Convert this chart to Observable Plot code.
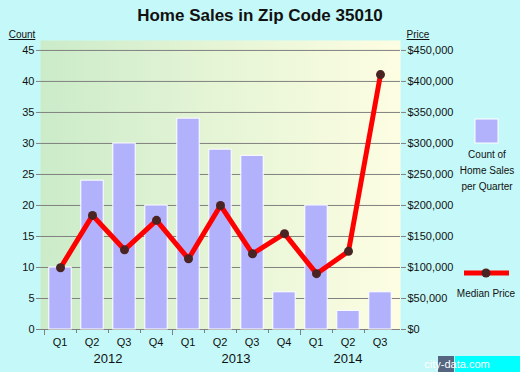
<!DOCTYPE html>
<html>
<head>
<meta charset="utf-8">
<script src="https://cdn.jsdelivr.net/npm/d3@7"></script>
<script src="https://cdn.jsdelivr.net/npm/@observablehq/plot@0.6"></script>
<style>
  html, body { margin: 0; padding: 0; background: #c5f9f9; }
  #chart { width: 520px; height: 372px; }
  svg { display: block; }
</style>
</head>
<body>
<div id="chart"></div>
<script>
const quarters = ["Q1","Q2","Q3","Q4","Q1","Q2","Q3","Q4","Q1","Q2","Q3"];
const years = [2012,2012,2012,2012,2013,2013,2013,2013,2014,2014,2014];
const counts = [10,24,30,20,34,29,28,6,20,3,6];
const prices = [99500,184000,128500,176000,114000,200000,122000,154500,90000,126000,411000];
const countTicks = [0,5,10,15,20,25,30,35,40,45];
const priceTicks = [0,50000,100000,150000,200000,250000,300000,350000,400000,450000];

const data = quarters.map((q, i) => ({id: years[i] + " " + q, q, year: years[i], count: counts[i], price: prices[i]}));
const ids = data.map(d => d.id);
const PRICE_PER_COUNT = 10000;

const font = "'Liberation Sans', Arial, sans-serif";

function xAxisMark(index, scales, values, dimensions) {
  const x = scales.x;
  let bw = x.bandwidth;
  bw = typeof bw === "function" ? bw() : (bw || 0);
  const y0 = dimensions.height - dimensions.marginBottom;
  const g = d3.create("svg:g").attr("font-family", font);
  ids.forEach((id, i) => {
    const xs = x(id);
    const isYear = i === 0 || data[i].year !== data[i - 1].year;
    g.append("line").attr("x1", xs + 0.5).attr("x2", xs + 0.5)
      .attr("y1", y0).attr("y2", y0 + (isYear ? 6 : 4))
      .attr("stroke", "#808080");
  });
  data.forEach(d => {
    g.append("text").attr("x", x(d.id) + bw / 2).attr("y", y0 + 17)
      .attr("text-anchor", "middle").attr("font-size", 11).attr("fill", "#111")
      .text(d.q);
  });
  d3.groups(data, d => d.year).forEach(([yr, arr]) => {
    const cx = d3.mean(arr, d => x(d.id) + bw / 2);
    g.append("text").attr("x", cx).attr("y", y0 + 34)
      .attr("text-anchor", "middle").attr("font-size", 13).attr("fill", "#111")
      .text(yr);
  });
  return g.node();
}

const chart = Plot.plot({
  width: 520,
  height: 372,
  marginLeft: 40,
  marginRight: 120,
  marginTop: 40,
  marginBottom: 43,
  style: {background: "transparent", fontFamily: font},
  x: {type: "band", domain: ids, padding: 0, axis: null},
  y: {domain: [0, 46.6], axis: null},
  marks: [
    Plot.frame({fill: "url(#bggrad)", stroke: "none"}),
    Plot.ruleY(countTicks, {stroke: "#808080", strokeWidth: 1}),
    Plot.axisY(countTicks, {anchor: "left", tickSize: 4, tickPadding: 2, fontSize: 11, stroke: "#808080", color: "#111", label: null}),
    Plot.axisY(countTicks, {anchor: "right", tickSize: 5, tickPadding: 2, fontSize: 11, stroke: "#808080", color: "#111", label: null,
      tickFormat: d => "$" + d3.format(",")(d * PRICE_PER_COUNT)}),
    Plot.barY(data, {x: "id", y: "count", fill: "#b2b2fc", stroke: "white", strokeWidth: 1, insetLeft: 4.8, insetRight: 4.8}),
    Plot.line(data, {x: "id", y: d => d.price / PRICE_PER_COUNT, stroke: "#ff0000", strokeWidth: 5, strokeLinejoin: "miter"}),
    Plot.dot(data, {x: "id", y: d => d.price / PRICE_PER_COUNT, r: 4.5, fill: "#4a2323", stroke: "none"}),
    xAxisMark
  ]
});

const svg = d3.select(chart.tagName.toLowerCase() === "svg" ? chart : chart.querySelector("svg"));
const defs = svg.insert("defs", ":first-child");
const grad = defs.append("linearGradient").attr("id", "bggrad").attr("x1", "0").attr("x2", "1").attr("y1", "0").attr("y2", "0");
grad.append("stop").attr("offset", "0").attr("stop-color", "#cbebc9");
grad.append("stop").attr("offset", "0.5").attr("stop-color", "#e6f5d6");
grad.append("stop").attr("offset", "1").attr("stop-color", "#fdfde2");

const over = svg.append("g").attr("font-family", font).attr("fill", "#111");
over.append("text").attr("x", 260).attr("y", 21).attr("text-anchor", "middle")
  .attr("font-size", 17).attr("font-weight", "bold").text("Home Sales in Zip Code 35010");
over.append("text").attr("x", 22).attr("y", 38).attr("text-anchor", "middle")
  .attr("font-size", 10).attr("text-decoration", "underline").text("Count");
over.append("text").attr("x", 418).attr("y", 38).attr("text-anchor", "middle")
  .attr("font-size", 10).attr("text-decoration", "underline").text("Price");
over.append("rect").attr("x", 475).attr("y", 119).attr("width", 23).attr("height", 24)
  .attr("fill", "#b2b2fc").attr("stroke", "white");
["Count of", "Home Sales", "per Quarter"].forEach((t, i) => {
  over.append("text").attr("x", 487).attr("y", 158 + i * 16).attr("text-anchor", "middle")
    .attr("font-size", 10).text(t);
});
over.append("line").attr("x1", 464).attr("x2", 509).attr("y1", 273).attr("y2", 273)
  .attr("stroke", "#ff0000").attr("stroke-width", 5);
over.append("circle").attr("cx", 486).attr("cy", 273).attr("r", 4.5).attr("fill", "#4a2323");
over.append("text").attr("x", 486).attr("y", 297).attr("text-anchor", "middle")
  .attr("font-size", 10).text("Median Price");
over.append("rect").attr("x", 438).attr("y", 356).attr("width", 16).attr("height", 16).attr("fill", "#556680");
over.append("rect").attr("x", 455).attr("y", 356).attr("width", 65).attr("height", 16).attr("fill", "#00ffff");
over.append("text").attr("x", 457).attr("y", 368).attr("font-size", 11).attr("fill", "white").text("city-data.com");

document.getElementById("chart").appendChild(chart);
</script>
</body>
</html>
